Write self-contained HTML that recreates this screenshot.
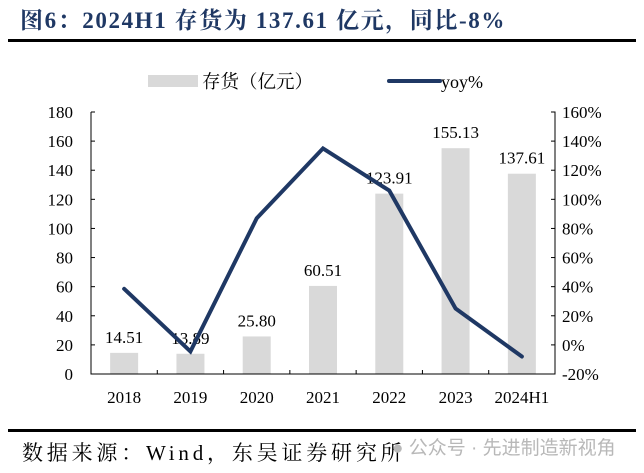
<!DOCTYPE html>
<html><head><meta charset="utf-8"><style>
body{margin:0;background:#fff;width:644px;height:473px;overflow:hidden;font-family:"Liberation Serif","Noto Serif CJK SC",serif}
.t{position:absolute;left:20px;top:2px;font-size:23px;letter-spacing:1.6px;font-weight:bold;color:#1f3864;white-space:nowrap}
.hr{position:absolute;left:8px;width:628px;height:3px;background:#000}
.src{position:absolute;left:22px;top:437px;font-size:21px;letter-spacing:3.8px;color:#000;white-space:nowrap}
.wm{position:absolute;left:392px;top:433px;font-size:19px;color:#b8b8b8;font-family:"Liberation Sans","Noto Sans CJK SC",sans-serif;white-space:nowrap}
</style></head><body>
<div class="t">图6：2024H1 存货为 137.61 亿元，同比-8%</div>
<div class="hr" style="top:39px"></div>
<svg id="c" width="644" height="473" style="position:absolute;left:0;top:0"></svg>
<div class="hr" style="top:429px"></div>
<div class="src">数据来源：Wind，东吴证券研究所</div>
<div class="wm">● 公众号 · 先进制造新视角</div>
<script>
const categories=["2018","2019","2020","2021","2022","2023","2024H1"];
const inventory=[14.51,13.89,25.80,60.51,123.91,155.13,137.61];
const inventoryLabels=["14.51","13.89","25.80","60.51","123.91","155.13","137.61"];
const yoy=[38.5,-4.5,87,135,106,25,-8];
const leftTicks=[0,20,40,60,80,100,120,140,160,180];
const rightTicks=[-20,0,20,40,60,80,100,120,140,160];
const svg=document.getElementById('c');const NS='http://www.w3.org/2000/svg';
const X0=91,X1=555,YT=112,YB=374;
const slot=(X1-X0)/categories.length;
const xc=i=>X0+slot*(i+0.5);
const yL=v=>YB-(v-0)/180*(YB-YT);
const yR=v=>YB-(v+20)/180*(YB-YT);
function mk(t,a,txt){const e=document.createElementNS(NS,t);for(const k in a)e.setAttribute(k,a[k]);if(txt!=null)e.textContent=txt;svg.appendChild(e);return e;}
const F='"Liberation Serif","Noto Serif CJK SC",serif';
let e=mk('rect',{x:148,y:75,width:50,height:12,fill:'#d9d9d9'});

e=mk('text',{x:202,y:88,'font-size':18.5,'font-family':F},'存货（亿元）');

e=mk('line',{x1:389,y1:81,x2:440,y2:81,stroke:'#1f3864','stroke-width':4,'stroke-linecap':'round'});

e=mk('text',{x:441,y:88,'font-size':18,'font-family':F},'yoy%');

inventory.forEach((v,i)=>{
 let b=mk('rect',{x:xc(i)-14,y:yL(v),width:28,height:YB-yL(v),fill:'#d9d9d9'});
 
 let t=mk('text',{x:xc(i),y:yL(v)-10,'font-size':17,'font-family':F,'text-anchor':'middle'},inventoryLabels[i]);
 
});
e=mk('path',{d:`M${X0} ${YT}H${X0+3}M${X0} ${YT}V${YB}H${X1}V${YT}H${X1-3}`,stroke:'#000','stroke-width':1,fill:'none'});

leftTicks.forEach(v=>{
 let l=mk('line',{x1:X0,x2:X0+4,y1:yL(v),y2:yL(v),stroke:'#000'});
 
 let t=mk('text',{x:X0-18,y:yL(v)+6,'font-size':17,'font-family':F,'text-anchor':'end'},String(v));
 
});
rightTicks.forEach(v=>{
 let l=mk('line',{x1:X1-4,x2:X1,y1:yR(v),y2:yR(v),stroke:'#000'});
 
 let t=mk('text',{x:X1+7,y:yR(v)+6,'font-size':17,'font-family':F},v+'%');
 
});
categories.forEach((c,i)=>{
 let l=mk('line',{x1:X0+slot*(i+1),x2:X0+slot*(i+1),y1:YB,y2:YB-4,stroke:'#000'});
 
 let t=mk('text',{x:xc(i),y:403,'font-size':17,'font-family':F,'text-anchor':'middle'},c);
 
});
e=mk('polyline',{points:yoy.map((v,i)=>xc(i)+','+yR(v)).join(' '),fill:'none',stroke:'#1f3864','stroke-width':4,'stroke-linejoin':'miter','stroke-linecap':'round'});

</script>
</body></html>
